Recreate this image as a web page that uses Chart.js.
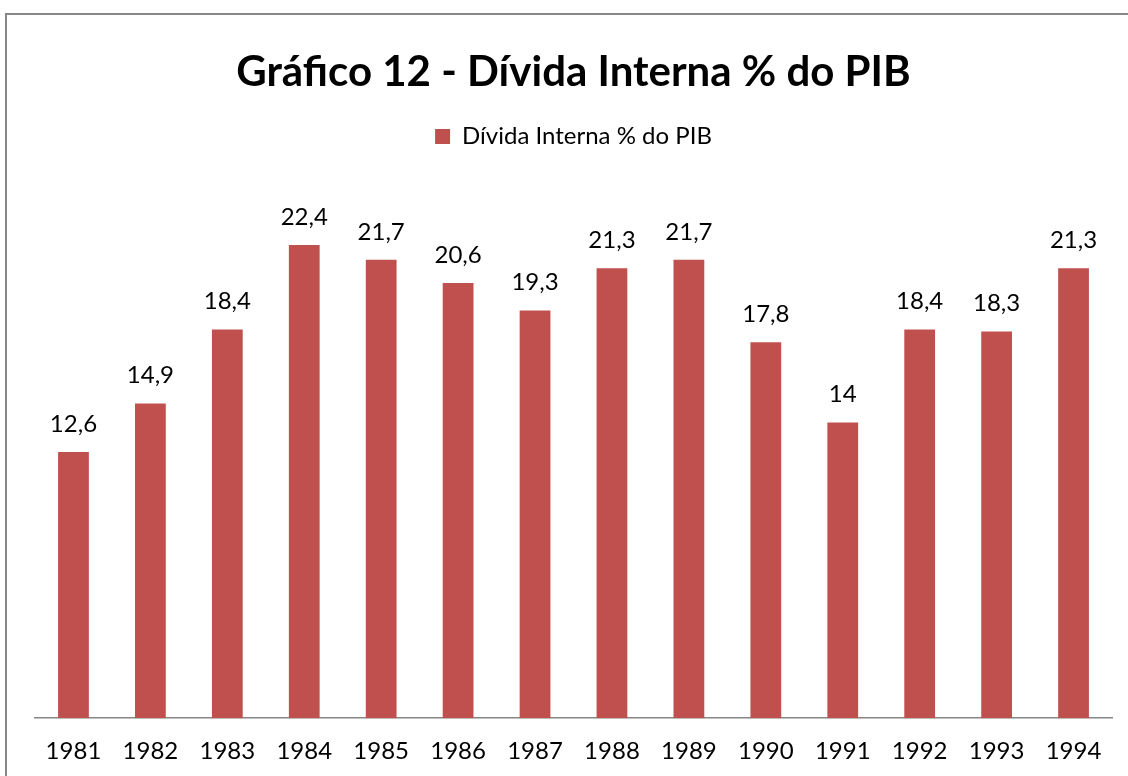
<!DOCTYPE html>
<html>
<head>
<meta charset="utf-8">
<script src="https://cdn.jsdelivr.net/npm/chart.js@4/dist/chart.umd.min.js"></script>
<style>
  body { margin: 0; background: #fff; }
  #wrap { width: 1128px; height: 776px; }
</style>
</head>
<body>
<div id="wrap"><canvas id="myChart" width="1128" height="776"></canvas></div>
<script>
const anos = ['1981', '1982', '1983', '1984', '1985', '1986', '1987', '1988', '1989', '1990', '1991', '1992', '1993', '1994'];
const dividaInterna = [12.6, 14.9, 18.4, 22.4, 21.7, 20.6, 19.3, 21.3, 21.7, 17.8, 14, 18.4, 18.3, 21.3];
const titulo = 'Gráfico 12 - Dívida Interna % do PIB';
const serieNome = 'Dívida Interna % do PIB';

const ctx = document.getElementById('myChart');

// moldura cinza e fundo branco
const moldura = {
    id: 'moldura',
    beforeDraw(chart) {
        const c = chart.ctx;
        c.save();
        c.fillStyle = '#fff';
        c.fillRect(0, 0, chart.width, chart.height);
        c.strokeStyle = '#878787';
        c.lineWidth = 2;
        c.strokeRect(6, 14, chart.width + 20, chart.height + 20);
        c.restore();
    }
};

// rotulos de valor em cima das barras
const rotulos = {
    id: 'rotulos',
    afterDatasetsDraw(chart) {
        const c = chart.ctx;
        const meta = chart.getDatasetMeta(0);
        c.save();
        c.font = '24px Lato';
        c.fillStyle = '#000';
        c.textAlign = 'center';
        c.textBaseline = 'middle';
        meta.data.forEach((bar, i) => {
            const txt = String(dividaInterna[i]).replace('.', ',');
            c.fillText(txt, bar.x, bar.y - 28);
        });
        c.restore();
    }
};

new Chart(ctx, {
    type: 'bar',
    data: {
        labels: anos,
        datasets: [{
            label: serieNome,
            data: dividaInterna,
            backgroundColor: '#C0504D',
            borderWidth: 0,
            categoryPercentage: 1,
            barPercentage: 0.4
        }]
    },
    options: {
        responsive: false,
        animation: false,
        layout: { padding: { left: 35, right: 16, top: 0, bottom: -9 } },
        plugins: {
            title: {
                display: true,
                text: titulo,
                color: '#000',
                font: { family: 'Lato', size: 42, weight: 'bold' },
                padding: { top: 47, bottom: 17 }
            },
            legend: {
                display: true,
                labels: {
                    color: '#000',
                    font: { family: 'Lato', size: 24 },
                    boxWidth: 15,
                    boxHeight: 15,
                    padding: 10
                }
            },
            tooltip: { enabled: false }
        },
        scales: {
            x: {
                grid: { display: false, drawTicks: false },
                border: { display: true, color: '#868686', width: 1.5 },
                ticks: {
                    color: '#000',
                    font: { family: 'Lato', size: 24 },
                    padding: 19,
                    maxRotation: 0
                }
            },
            y: {
                display: false,
                min: 0,
                max: 26.5
            }
        }
    },
    plugins: [moldura, rotulos]
});
</script>
</body>
</html>
